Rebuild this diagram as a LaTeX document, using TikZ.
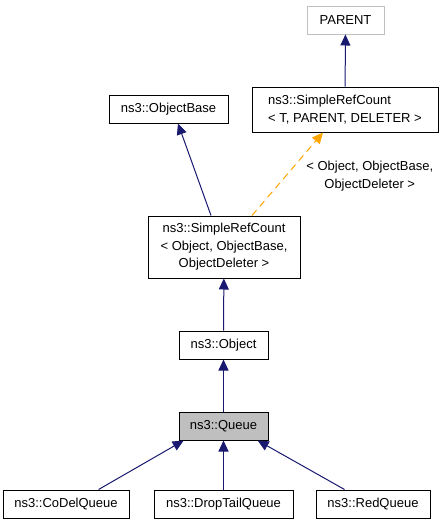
\documentclass[tikz,border=0pt]{standalone}
\usepackage{fontspec}
\setmainfont{Liberation Sans}
\usepackage{xcolor}
\usetikzlibrary{
  	positioning,
  	arrows.meta
  }
\definecolor{edgeblue}{RGB}{25,25,112}
\definecolor{edgeorange}{RGB}{255,165,0}
\definecolor{boxgray}{RGB}{191,191,191}
\tikzstyle{cls}=[draw=black,line width=1pt,inner sep=0pt,minimum height=28pt,font=\fontsize{13}{17.5}\selectfont]
\tikzstyle{inh}=[draw=edgeblue,line width=1pt,-{Triangle[length=11pt,width=10pt,fill=edgeblue]}]
\tikzstyle{tmpl}=[draw=edgeorange,line width=1pt,dash pattern=on 7pt off 5pt,-{Triangle[length=11pt,width=10pt,fill=edgeorange]}]

\begin{document}
\begin{tikzpicture}[x=1pt,y=-1pt]
  \useasboundingbox (0,0) rectangle (444,525);
  \node[cls, draw=boxgray, minimum width=77pt] (parent) at (345.5,20) {PARENT};
  \node[cls, minimum width=186pt, minimum height=45pt, align=left] (srct) at (345,109.5)
     {ns3::SimpleRefCount\\< T, PARENT, DELETER >};
  \node[cls, minimum width=119pt] (objbase) at (168.5,109) {ns3::ObjectBase};
  \node[cls, minimum width=152pt, minimum height=62pt, align=center] (srco) at (224,247)
     {ns3::SimpleRefCount\\< Object, ObjectBase,\\ObjectDeleter >};
  \node[cls, minimum width=89pt] (object) at (223.5,345) {ns3::Object};
  \node[cls, minimum width=89pt, fill=boxgray] (queue) at (223.5,426) {ns3::Queue};
  \node[cls, minimum width=126pt] (codel) at (66,504) {ns3::CoDelQueue};
  \node[cls, minimum width=139pt] (droptail) at (223.5,504) {ns3::DropTailQueue};
  \node[cls, minimum width=114pt] (red) at (373,504) {ns3::RedQueue};
%
  \draw[inh] (srct) -- (parent);
  \draw[inh] ([xshift=-13pt]srco.north) -- ([xshift=9.5pt]objbase.south);
  \draw[tmpl] ([xshift=28pt]srco.north) -- ([xshift=-22pt]srct.south)
     node[pos=0.5, right=15pt, yshift=-2pt, align=center, font=\fontsize{13}{17.5}\selectfont] (tlabel)
     {< Object, ObjectBase,\\ObjectDeleter >};
  \draw[inh] (object) -- (srco);
  \draw[inh] (queue) -- (object);
  \draw[inh] (codel.24) -- (queue.-160);
  \draw[inh] (droptail) -- (queue);
  \draw[inh] (red.153) -- (queue.-23);
\end{tikzpicture}
\end{document}
